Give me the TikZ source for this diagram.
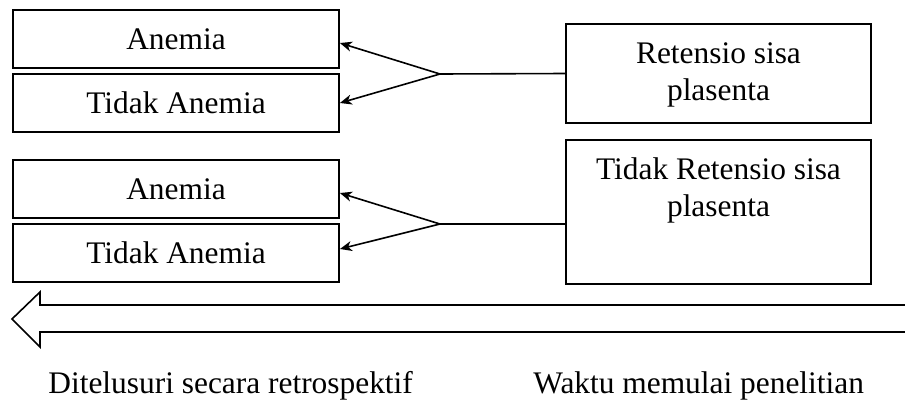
\documentclass[tikz,border=0pt]{standalone}
\usepackage{fontspec}
\setmainfont{Liberation Serif}
\usetikzlibrary{arrows.meta}
\begin{document}
\begin{tikzpicture}[x=0.5pt,y=-0.5pt,
  font=\fontsize{15.7}{18.5}\selectfont,
  kotak/.style={draw,line width=0.9pt,minimum width=163pt,minimum height=29pt,inner sep=0pt},
  kotakkanan/.style={draw,line width=0.9pt,minimum width=152.5pt,inner sep=0pt},
  teks/.style={anchor=north,align=center,inner sep=0pt},
  panah/.style={-{Stealth[length=6pt,width=5pt,inset=1.8pt]},line width=0.8pt}]
\useasboundingbox (0,0) rectangle (905,402);
% kelompok kiri
\node[kotak] (an1) at (176,39) {Anemia};
\node[kotak] (tan1) at (176,103) {Tidak Anemia};
\node[kotak] (an2) at (176,189) {Anemia};
\node[kotak] (tan2) at (176,253) {Tidak Anemia};
% kelompok kanan
\node[kotakkanan,minimum height=49.5pt] (ret) at (718.5,73.5) {};
\node[kotakkanan,minimum height=72pt] (tret) at (718.5,212) {};
\node[teks] (retteks) at ([yshift=-9.6pt]ret.north) {Retensio sisa\\plasenta};
\node[teks] (tretteks) at ([yshift=-9.2pt]tret.north) {Tidak Retensio sisa\\plasenta};
% percabangan
\coordinate (j1) at (440,74);
\coordinate (j2) at (440,224);
\draw[line width=0.8pt] (j1) -- (ret.west);
\draw[line width=0.8pt] (j2) -- (tret.west |- j2);
\draw[panah] (j1) -- ([yshift=-2pt]an1.east);
\draw[panah] (j1) -- ([yshift=0pt]tan1.east);
\draw[panah] (j2) -- ([yshift=-2pt]an2.east);
\draw[panah] (j2) -- ([yshift=2pt]tan2.east);
% panah waktu
\draw[line width=0.8pt] (905,305) -- (40,305) -- (40,292) -- (12,319) -- (40,347) -- (40,332) -- (905,332);
\node[anchor=base west,inner sep=0pt] (mundur) at (48,393) {Ditelusuri secara retrospektif};
\node[anchor=base west,inner sep=0pt] (mulai) at (533,393) {Waktu memulai penelitian};
\end{tikzpicture}
\end{document}
